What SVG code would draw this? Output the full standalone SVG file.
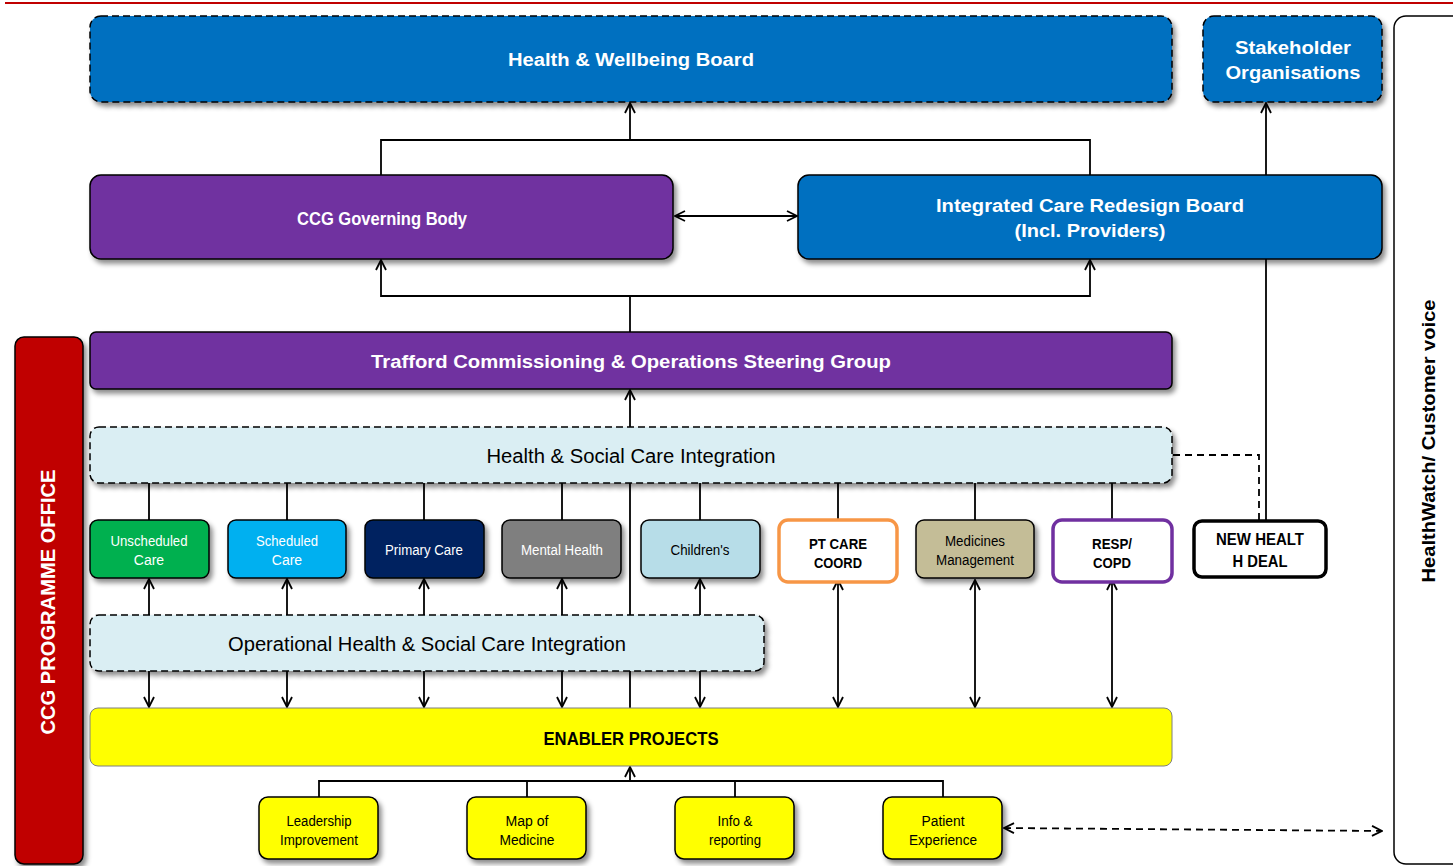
<svg xmlns="http://www.w3.org/2000/svg" width="1453" height="866" viewBox="0 0 1453 866">
<defs>
<filter id="sh" x="-10%" y="-10%" width="130%" height="140%">
<feDropShadow dx="3" dy="4" stdDeviation="2.5" flood-color="#000" flood-opacity="0.45"/>
</filter>
<marker id="arr" viewBox="0 0 12 12" refX="11" refY="6" markerWidth="12" markerHeight="12" markerUnits="userSpaceOnUse" orient="auto-start-reverse">
<path d="M1,1 L11,6 L1,11" fill="none" stroke="#000" stroke-width="1.8"/>
</marker>
</defs>
<style>
.box{stroke:#000;stroke-width:1.5;filter:url(#sh)}
.dash{stroke-dasharray:7,4}
.blue{fill:#0070c0}
.purple{fill:#7030a0}
.lb{fill:#daeef3}
.yel{fill:#ffff00}
.t{font-family:"Liberation Sans",Arial,sans-serif;text-anchor:middle}
.wb{fill:#fff;font-weight:bold;font-size:18px}
.w{fill:#fff;font-size:14px}
.k{fill:#000;font-size:14px}
.kb{fill:#000;font-weight:bold;font-size:15px}
.big{fill:#000;font-size:20px}
.c{fill:none;stroke:#000;stroke-width:1.8}
.cd{fill:none;stroke:#000;stroke-width:1.8;stroke-dasharray:7,5}
</style>
<line x1="5" y1="3" x2="1453" y2="3" stroke="#c00000" stroke-width="2"/>

<g id="connectors">
<path class="c" d="M381,175 V140 H1090 V175"/>
<path class="c" d="M630,140 V103" marker-end="url(#arr)"/>
<path class="c" d="M675,216 H797" marker-start="url(#arr)" marker-end="url(#arr)"/>
<path class="c" d="M630,332 V296"/>
<path class="c" d="M630,296 H381 V260" marker-end="url(#arr)"/>
<path class="c" d="M630,296 H1090 V260" marker-end="url(#arr)"/>
<path class="c" d="M630,427 V390" marker-end="url(#arr)"/>
<path class="c" d="M1266,520 V103" marker-end="url(#arr)"/>
<path class="cd" d="M1173,455 H1259 V520"/>
<path class="c" d="M149,483 V520 M287,483 V520 M424,483 V520 M562,483 V520 M700,483 V520 M838,483 V520 M975,483 V520 M1112,483 V520"/>
<path class="c" d="M630,483 V708"/>
<path class="c" d="M149,615 V579" marker-end="url(#arr)"/>
<path class="c" d="M287,615 V579" marker-end="url(#arr)"/>
<path class="c" d="M424,615 V579" marker-end="url(#arr)"/>
<path class="c" d="M562,615 V579" marker-end="url(#arr)"/>
<path class="c" d="M700,615 V579" marker-end="url(#arr)"/>
<path class="c" d="M149,671 V707" marker-end="url(#arr)"/>
<path class="c" d="M287,671 V707" marker-end="url(#arr)"/>
<path class="c" d="M424,671 V707" marker-end="url(#arr)"/>
<path class="c" d="M562,671 V707" marker-end="url(#arr)"/>
<path class="c" d="M700,671 V707" marker-end="url(#arr)"/>
<path class="c" d="M838,580 V707" marker-start="url(#arr)" marker-end="url(#arr)"/>
<path class="c" d="M975,580 V707" marker-start="url(#arr)" marker-end="url(#arr)"/>
<path class="c" d="M1112,580 V707" marker-start="url(#arr)" marker-end="url(#arr)"/>
<path class="c" d="M319,797 V781 H943 V797 M527,781 V797 M735,781 V797"/>
<path class="c" d="M630,781 V767" marker-end="url(#arr)"/>
<path class="cd" d="M1004,828 L1382,831" marker-start="url(#arr)" marker-end="url(#arr)"/>
</g>

<g id="healthwatch">
<rect x="1394" y="16" width="90" height="848" rx="12" fill="#fff" stroke="#000" stroke-width="1.5"/>
<text class="t" transform="translate(1435,441) rotate(-90)" font-size="18" font-weight="bold" fill="#000" textLength="283" lengthAdjust="spacingAndGlyphs">HealthWatch/ Customer voice</text>
</g>

<g id="programme-office">
<rect class="box" x="15" y="337" width="68" height="527" rx="9" fill="#c00000"/>
<text class="t" transform="translate(55,602) rotate(-90)" font-size="20" font-weight="bold" fill="#fff" textLength="265" lengthAdjust="spacingAndGlyphs">CCG PROGRAMME OFFICE</text>
</g>

<g id="hwb">
<rect class="box dash blue" x="90" y="16" width="1082" height="86" rx="11"/>
<text class="t wb" x="631" y="66" textLength="246" lengthAdjust="spacingAndGlyphs">Health &amp; Wellbeing Board</text>
</g>

<g id="stakeholder">
<rect class="box dash blue" x="1203" y="16" width="179" height="86" rx="11"/>
<text class="t wb" x="1293" y="54" textLength="116" lengthAdjust="spacingAndGlyphs">Stakeholder</text>
<text class="t wb" x="1293" y="79" textLength="135" lengthAdjust="spacingAndGlyphs">Organisations</text>
</g>

<g id="ccg-gb">
<rect class="box purple" x="90" y="175" width="583" height="84" rx="11"/>
<text class="t wb" x="382" y="225" textLength="170" lengthAdjust="spacingAndGlyphs">CCG Governing Body</text>
</g>

<g id="icrb">
<rect class="box blue" x="798" y="175" width="584" height="84" rx="11"/>
<text class="t wb" x="1090" y="212" textLength="308" lengthAdjust="spacingAndGlyphs">Integrated Care Redesign Board</text>
<text class="t wb" x="1090" y="237" textLength="151" lengthAdjust="spacingAndGlyphs">(Incl. Providers)</text>
</g>

<g id="steering">
<rect class="box purple" x="90" y="332" width="1082" height="57" rx="6"/>
<text class="t wb" x="631" y="368" textLength="520" lengthAdjust="spacingAndGlyphs">Trafford Commissioning &amp; Operations Steering Group</text>
</g>

<g id="hsci">
<rect class="box dash lb" x="90" y="427" width="1082" height="56" rx="9"/>
<text class="t big" x="631" y="463" textLength="289" lengthAdjust="spacingAndGlyphs">Health &amp; Social Care Integration</text>
</g>

<g id="unscheduled">
<rect class="box" x="90" y="520" width="119" height="58" rx="8" fill="#00b050"/>
<text class="t w" x="149" y="546" textLength="77" lengthAdjust="spacingAndGlyphs">Unscheduled</text>
<text class="t w" x="149" y="565">Care</text>
</g>
<g id="scheduled">
<rect class="box" x="228" y="520" width="118" height="58" rx="8" fill="#00b0f0"/>
<text class="t w" x="287" y="546" textLength="62" lengthAdjust="spacingAndGlyphs">Scheduled</text>
<text class="t w" x="287" y="565">Care</text>
</g>
<g id="primary">
<rect class="box" x="365" y="520" width="119" height="58" rx="8" fill="#002060"/>
<text class="t w" x="424" y="555" textLength="78" lengthAdjust="spacingAndGlyphs">Primary Care</text>
</g>
<g id="mental">
<rect class="box" x="502" y="520" width="119" height="58" rx="8" fill="#7f7f7f"/>
<text class="t w" x="562" y="555" textLength="82" lengthAdjust="spacingAndGlyphs">Mental Health</text>
</g>
<g id="childrens">
<rect class="box" x="641" y="520" width="119" height="58" rx="8" fill="#b7dde8"/>
<text class="t k" x="700" y="555" textLength="59" lengthAdjust="spacingAndGlyphs">Children's</text>
</g>
<g id="ptcare">
<rect x="779" y="520" width="118" height="62" rx="9" fill="#fff" stroke="#f79646" stroke-width="3.5"/>
<text class="t kb" x="838" y="549" textLength="58" lengthAdjust="spacingAndGlyphs">PT CARE</text>
<text class="t kb" x="838" y="568" textLength="48" lengthAdjust="spacingAndGlyphs">COORD</text>
</g>
<g id="medicines">
<rect class="box" x="916" y="520" width="118" height="58" rx="8" fill="#c4bd97"/>
<text class="t k" x="975" y="546" textLength="60" lengthAdjust="spacingAndGlyphs">Medicines</text>
<text class="t k" x="975" y="565" textLength="78" lengthAdjust="spacingAndGlyphs">Management</text>
</g>
<g id="resp">
<rect x="1053" y="520" width="119" height="62" rx="9" fill="#fff" stroke="#7030a0" stroke-width="3.5"/>
<text class="t kb" x="1112" y="549" textLength="40" lengthAdjust="spacingAndGlyphs">RESP/</text>
<text class="t kb" x="1112" y="568" textLength="38" lengthAdjust="spacingAndGlyphs">COPD</text>
</g>
<g id="newdeal">
<rect x="1194" y="521" width="132" height="56" rx="8" fill="#fff" stroke="#000" stroke-width="3.5"/>
<text class="t" x="1260" y="545" font-size="17" font-weight="bold" textLength="88" lengthAdjust="spacingAndGlyphs">NEW HEALT</text>
<text class="t" x="1260" y="567" font-size="17" font-weight="bold" textLength="55" lengthAdjust="spacingAndGlyphs">H DEAL</text>
</g>

<g id="ops">
<rect class="box dash lb" x="90" y="615" width="674" height="56" rx="9"/>
<text class="t big" x="427" y="651" textLength="398" lengthAdjust="spacingAndGlyphs">Operational Health &amp; Social Care Integration</text>
</g>

<g id="enabler">
<rect x="90" y="708" width="1082" height="58" rx="8" fill="#ffff00" stroke="#7f7f7f" stroke-width="1"/>
<text class="t" x="631" y="745" font-size="18" font-weight="bold" textLength="175" lengthAdjust="spacingAndGlyphs">ENABLER PROJECTS</text>
</g>

<g id="leadership">
<rect class="box yel" x="259" y="797" width="119" height="62" rx="9"/>
<text class="t k" x="319" y="826" textLength="65" lengthAdjust="spacingAndGlyphs">Leadership</text>
<text class="t k" x="319" y="845" textLength="78" lengthAdjust="spacingAndGlyphs">Improvement</text>
</g>
<g id="map">
<rect class="box yel" x="467" y="797" width="119" height="62" rx="9"/>
<text class="t k" x="527" y="826" textLength="43" lengthAdjust="spacingAndGlyphs">Map of</text>
<text class="t k" x="527" y="845" textLength="55" lengthAdjust="spacingAndGlyphs">Medicine</text>
</g>
<g id="info">
<rect class="box yel" x="675" y="797" width="119" height="62" rx="9"/>
<text class="t k" x="735" y="826" textLength="35" lengthAdjust="spacingAndGlyphs">Info &amp;</text>
<text class="t k" x="735" y="845" textLength="52" lengthAdjust="spacingAndGlyphs">reporting</text>
</g>
<g id="patient">
<rect class="box yel" x="883" y="797" width="119" height="62" rx="9"/>
<text class="t k" x="943" y="826" textLength="43" lengthAdjust="spacingAndGlyphs">Patient</text>
<text class="t k" x="943" y="845" textLength="68" lengthAdjust="spacingAndGlyphs">Experience</text>
</g>
</svg>
